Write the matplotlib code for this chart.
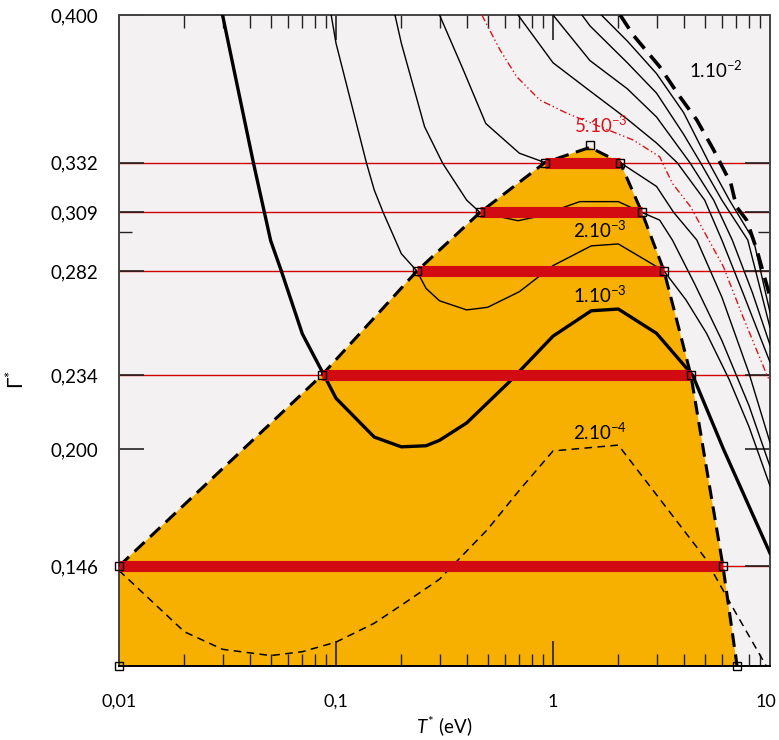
import matplotlib
matplotlib.use('Agg')
import matplotlib.pyplot as plt
import matplotlib.transforms as mtransforms

plt.rcParams['font.family'] = ['Lato', 'DejaVu Sans']
plt.rcParams['mathtext.fontset'] = 'custom'
plt.rcParams['mathtext.rm'] = 'Lato'
plt.rcParams['mathtext.it'] = 'Lato:italic'
plt.rcParams['mathtext.default'] = 'regular'

# ---------------- data ----------------
gamma_rows = [0.146, 0.234, 0.282, 0.309, 0.332]
row_T_left = [0.01, 0.086, 0.236, 0.461, 0.918]
row_T_right = [6.07, 4.32, 3.25, 2.57, 2.04]
peak_T, peak_G = 1.48, 0.339
base_T = [0.01, 7.05]
base_G = 0.100

# contour 2e-4 (thin dashed)
c2e4_T = [0.01, 0.02, 0.03, 0.05, 0.07, 0.1, 0.15, 0.2, 0.3, 0.5, 0.7, 1.0, 2.0, 5.0, 7.0, 10.0]
c2e4_G = [0.144, 0.1158, 0.1077, 0.1048, 0.1066, 0.111, 0.1197, 0.128, 0.140, 0.163, 0.181, 0.1991, 0.2018, 0.1500, 0.124, 0.097]

# contour 1e-3 (thick solid)
c1e3_T = [0.030, 0.0416, 0.05, 0.056, 0.07, 0.086, 0.1, 0.15, 0.2, 0.26, 0.3, 0.4, 0.63, 1.0, 1.5, 2.0, 3.0, 4.4, 6.1, 10.0]
c1e3_G = [0.400, 0.332, 0.296, 0.282, 0.253, 0.236, 0.2234, 0.2055, 0.201, 0.2015, 0.204, 0.212, 0.231, 0.252, 0.2637, 0.2645, 0.2533, 0.234, 0.200, 0.152]

# contour 2e-3 (thin solid)
c2e3_T = [0.095, 0.1, 0.138, 0.15, 0.165, 0.2, 0.236, 0.26, 0.3, 0.4, 0.5, 0.7, 1.0, 1.5, 2.0, 3.25, 4.1, 5.1, 6.5, 8.0, 10.0]
c2e3_G = [0.400, 0.387, 0.332, 0.3194, 0.309, 0.290, 0.282, 0.274, 0.2683, 0.2641, 0.2653, 0.2725, 0.2845, 0.2936, 0.2945, 0.282, 0.2687, 0.2533, 0.2318, 0.2103, 0.183]

# contour 3e-3 (thin solid)
c3e3_T = [0.187, 0.2, 0.256, 0.31, 0.40, 0.461, 0.69, 0.84, 1.33, 2.0, 2.57, 3.1, 3.55, 4.5, 6.0, 8.0, 10.0]
c3e3_G = [0.400, 0.387, 0.3485, 0.3317, 0.3147, 0.309, 0.3052, 0.307, 0.314, 0.314, 0.309, 0.3055, 0.2963, 0.276, 0.250, 0.220, 0.192]

# contour 4e-3 (thin solid)
c4e3_T = [0.30, 0.386, 0.49, 0.70, 0.918, 2.04, 3.0, 3.6, 4.6, 6.0, 8.0, 10.0]
c4e3_G = [0.400, 0.3747, 0.350, 0.3363, 0.332, 0.332, 0.321, 0.309, 0.2963, 0.270, 0.235, 0.203]

# contour 5e-3 (red dash-dot)
c5e3_T = [0.47, 0.57, 0.68, 0.87, 1.16, 1.65, 2.34, 3.1, 3.55, 4.3, 6.1, 7.5, 9.6, 10.0]
c5e3_G = [0.400, 0.3839, 0.3716, 0.3608, 0.3547, 0.3485, 0.3424, 0.3347, 0.3224, 0.3117, 0.284, 0.261, 0.2349, 0.231]

# contours 6e-3 .. 9e-3 (thin solid)
c6e3_T = [0.69, 1.0, 1.48, 2.2, 3.0, 3.73, 5.0, 6.0, 7.5, 10.0]
c6e3_G = [0.400, 0.378, 0.365, 0.352, 0.341, 0.332, 0.3147, 0.2963, 0.272, 0.240]
c7e3_T = [1.0, 1.48, 2.2, 3.0, 4.27, 5.5, 6.7, 8.3, 10.0]
c7e3_G = [0.400, 0.379, 0.366, 0.353, 0.332, 0.3147, 0.2963, 0.272, 0.248]
c8e3_T = [1.36, 1.48, 2.2, 3.0, 4.0, 4.78, 6.0, 7.9, 10.0]
c8e3_G = [0.400, 0.395, 0.378, 0.364, 0.345, 0.332, 0.3147, 0.2963, 0.256]
c9e3_T = [1.67, 2.2, 3.0, 4.0, 5.23, 6.5, 8.4, 10.0]
c9e3_G = [0.400, 0.388, 0.373, 0.355, 0.332, 0.3147, 0.2963, 0.263]

# contour 1e-2 (thick dashed)
c1e2_T = [2.04, 2.34, 3.1, 3.84, 4.6, 5.5, 6.6, 7.0, 7.8, 8.7, 10.0]
c1e2_G = [0.400, 0.3908, 0.3762, 0.3624, 0.3516, 0.3378, 0.3224, 0.3117, 0.3055, 0.2917, 0.2702]

labels = ['1.10$^{-2}$', '5.10$^{-3}$', '2.10$^{-3}$', '1.10$^{-3}$', '2.10$^{-4}$']
label_T = [5.6, 1.66, 1.65, 1.65, 1.65]
label_G = [0.3747, 0.349, 0.3009, 0.271, 0.2078]
label_colors = ['black', '#d9141c', 'black', 'black', 'black']

ytick_vals = [0.146, 0.200, 0.234, 0.282, 0.309, 0.332, 0.400]
ytick_labels = ['0,146', '0,200', '0,234', '0,282', '0,309', '0,332', '0,400']
xtick_vals = [0.01, 0.1, 1, 10]
xtick_labels = ['0,01', '0,1', '1', '10']

# ---------------- figure ----------------
fig = plt.figure(figsize=(7.79, 7.40), dpi=100)
ax = fig.add_axes([119/779, 1-666/740, (770-119)/779, (666-15)/740])
ax.set_facecolor('#f3f1f2')
ax.set_xscale('log')
ax.set_xlim(0.01, 10)
ax.set_ylim(0.1, 0.4)

ORANGE = '#f8b000'
RED = '#d20a11'

# orange domain
poly_T = [base_T[0]] + row_T_left + [peak_T] + row_T_right[::-1] + [base_T[1]]
poly_G = [base_G] + gamma_rows + [peak_G] + gamma_rows[::-1] + [base_G]
ax.fill(poly_T, poly_G, color=ORANGE, lw=0, zorder=1)

# thin red horizontal lines
for g in gamma_rows:
    ax.axhline(g, color='#d40000', lw=1.0, zorder=1.5)

# contours
ax.plot(c2e4_T, c2e4_G, color='black', lw=1.1, dashes=(5, 3.5), zorder=3)
ax.plot(c1e3_T, c1e3_G, color='black', lw=2.4, zorder=3)
for T, G in [(c2e3_T, c2e3_G), (c3e3_T, c3e3_G), (c4e3_T, c4e3_G),
             (c6e3_T, c6e3_G), (c7e3_T, c7e3_G), (c8e3_T, c8e3_G), (c9e3_T, c9e3_G)]:
    ax.plot(T, G, color='black', lw=1.0, zorder=3)
ax.plot(c5e3_T, c5e3_G, color='#d9141c', lw=1.0, dashes=(5, 2, 1, 2, 1, 2), zorder=3)
ax.plot(c1e2_T, c1e2_G, color='black', lw=2.6, dashes=(4.5, 2.5), zorder=3)

# domain boundary (dashed)
ax.plot(row_T_left + [peak_T] + row_T_right[::-1] + [base_T[1]],
        gamma_rows + [peak_G] + gamma_rows[::-1] + [base_G],
        color='black', lw=2.2, dashes=(4.5, 2.5), zorder=4)

# thick red bars
for g, tl, tr in zip(gamma_rows, row_T_left, row_T_right):
    ax.plot([tl, tr], [g, g], color=RED, lw=8, solid_capstyle='butt', zorder=5)

# square markers
mk_T = row_T_left + row_T_right + [peak_T] + base_T
mk_G = gamma_rows + gamma_rows + [peak_G + 0.001] + [base_G, base_G]
ax.plot(mk_T, mk_G, ls='none', marker='s', ms=6, mfc='none', mec='black', mew=1.0,
        zorder=6, clip_on=False)

# labels
for s, t, g, c in zip(labels, label_T, label_G, label_colors):
    ax.text(t, g, s, color=c, fontsize=13.5, ha='center', va='center', zorder=7)

# ticks
ax.set_yticks(ytick_vals)
ax.set_yticklabels(ytick_labels)
ax.set_yticks([0.300], minor=True)
ax.set_xticks(xtick_vals)
ax.set_xticklabels(xtick_labels)
ax.tick_params(which='major', direction='in', length=18, width=1.2, top=True, right=True,
               labelsize=13.5, color='#222222')
ax.tick_params(axis='x', which='major', labelsize=13)
ax.tick_params(axis='y', which='major', pad=15)
ax.tick_params(axis='x', which='major', pad=20)
ax.tick_params(which='minor', direction='in', length=9, width=1.0, top=True, right=True,
               color='#222222')
for sp in ax.spines.values():
    sp.set_linewidth(1.4)
    sp.set_color('#444444')
ax.spines['bottom'].set_color('black')

# nudge the last x tick label so it stays inside the figure
last = ax.get_xticklabels()[-1]
last.set_transform(last.get_transform() + mtransforms.ScaledTranslation(-4/100, 0, fig.dpi_scale_trans))

ax.set_xlabel('$\\mathit{T}^{*}$ (eV)', fontsize=13.5, labelpad=3)
ax.set_ylabel('$\\Gamma^{*}$', fontsize=15)
ax.yaxis.set_label_coords(-0.14, 0.44)

fig.savefig('out.png', dpi=100)
